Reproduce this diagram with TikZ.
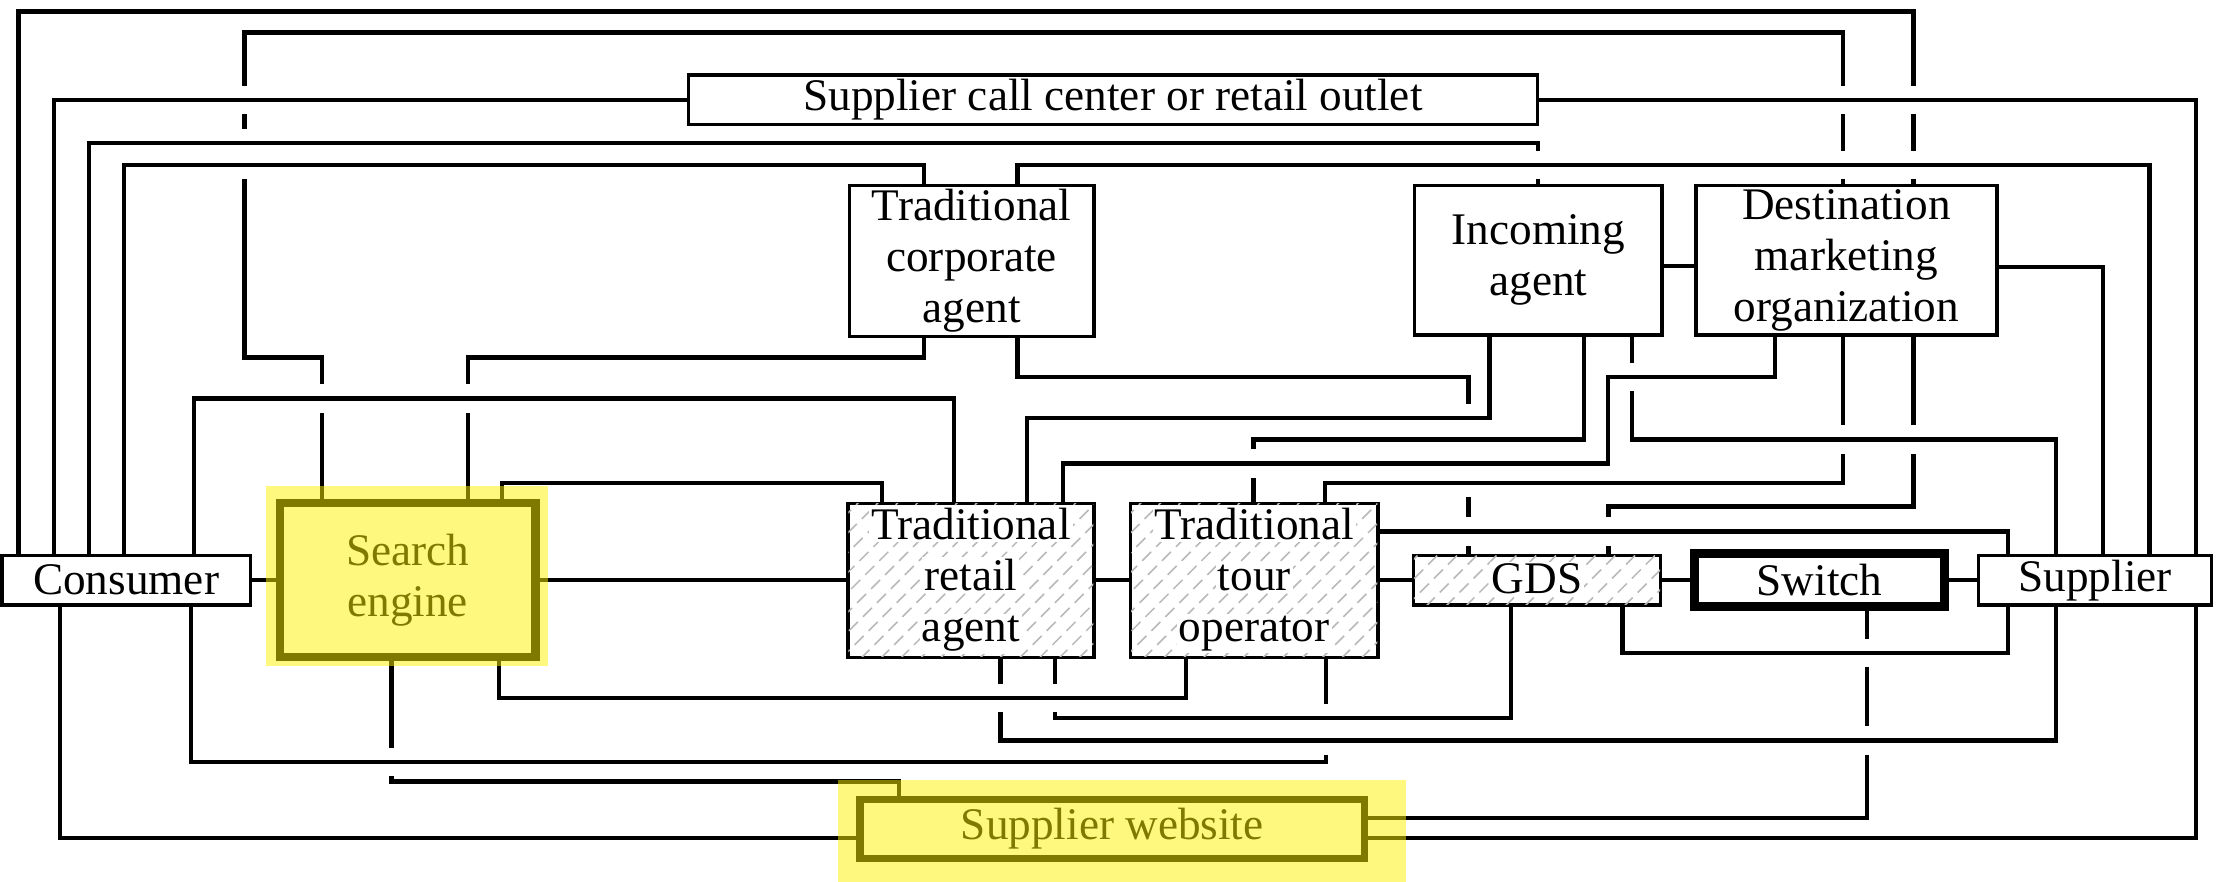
\documentclass[tikz,border=0pt]{standalone}
\usepackage{fontspec}
\setmainfont{Liberation Serif}
\usetikzlibrary{calc}
\pgfdeclarelayer{bg}
\pgfdeclarelayer{fg}
\pgfsetlayers{bg,main,fg}
\newcommand{\dfont}{\fontsize{32}{36}\selectfont}
\newcommand{\brk}[2]{%
  \fill[white] ({#1-5},{#2-10}) rectangle ({#1+5},{#2+10});
  \draw[ln] ({#1-7},#2) -- ({#1+7},#2);}
\newcommand{\hatchbox}[1]{%
  \begin{scope}
  \clip ($(#1.south west)+(1.5,-1.5)$) rectangle ($(#1.north east)+(-1.5,1.5)$);
  \foreach \k in {-130,-116,...,200}{\draw[hatchln] ($(#1.south west)+(\k,0)$) -- ++(130,-130);}
  \end{scope}}
\begin{document}
\begin{tikzpicture}[x=1pt,y=-1pt,
  ln/.style={line width=3pt, line join=miter},
  box/.style={draw, line width=2.3pt, fill=white, inner sep=0pt, align=center, font=\dfont},
  tl/.style={anchor=base, fill=white, inner sep=1.5pt, font=\dfont},
  hatchln/.style={draw=gray!55, line width=1.1pt, dash pattern=on 9pt off 5pt},
  hilite/.style={fill=yellow, fill opacity=0.5}]
\useasboundingbox (0,0) rectangle (1568,624);

% ---------- nodes ----------
\node[box, minimum width=175.5pt, minimum height=35pt] (con) at (89.25,410.5) {Consumer};
\node[box, line width=6pt, minimum width=181pt, minimum height=109pt] (se) at (288.5,410.5) {Search\\engine};
\node[box, minimum width=174pt, minimum height=109pt] (tra) at (687,410.5) {};
\node[box, minimum width=175pt, minimum height=109pt] (tto) at (887.5,410.5) {};
\node[box, minimum width=175pt, minimum height=35pt] (gds) at (1087.5,410.5) {};
\node[box, line width=6pt, minimum width=177pt, minimum height=37.6pt] (sw) at (1287.5,410.5) {Switch};
\node[box, minimum width=165pt, minimum height=35pt] (sup) at (1482.5,410.5) {Supplier};
\node[box, minimum width=601pt, minimum height=35pt] (scc) at (787.5,70.5) {Supplier call center or retail outlet};
\node[box, minimum width=173pt, minimum height=107pt] (tca) at (687.5,184.5) {Traditional\\corporate\\agent};
\node[box, minimum width=175pt, minimum height=106pt] (inc) at (1088.5,184) {Incoming\\agent};
\node[box, minimum width=213pt, minimum height=106pt] (dmo) at (1306.5,184) {Destination\\marketing\\organization};
\node[box, line width=5pt, minimum width=357pt, minimum height=42pt] (web) at (787,586.5) {Supplier website};

% hatched boxes
\hatchbox{tra}
\hatchbox{tto}
\hatchbox{gds}
\node[tl] at (687,382) {Traditional};
\node[tl] at (687,418) {retail};
\node[tl] at (687,454) {agent};
\node[tl] at (887.5,382) {Traditional};
\node[tl] at (887.5,418) {tour};
\node[tl] at (887.5,454) {operator};
\node[tl] at (1087.5,420) {GDS};

% ---------- connectors ----------
\begin{pgfonlayer}{bg}
\draw[ln] (con.east) -- (se.west);
\draw[ln] (se.east) -- (tra.west);
\draw[ln] (tra.east) -- (tto.west);
\draw[ln] (tto.east) -- (gds.west);
\draw[ln] (gds.east) -- (sw.west);
\draw[ln] (sw.east) -- (sup.west);
\draw[ln] (inc.east |- 0,188) -- (dmo.west |- 0,188);
% consumer top
\draw[ln, line width=3.6pt] (13,0 |- con.north) |- (1354,8) |- (1138,358.5) -- (1138,0 |- gds.north);
\draw[ln] (38,0 |- con.north) |- (scc.west);
\draw[ln] (63,0 |- con.north) |- (1088,101) -- (1088,0 |- inc.north);
\draw[ln] (88,0 |- con.north) |- (654,117) -- (654,0 |- tca.north);
\draw[ln] (137,0 |- con.north) |- (675,282) -- (675,0 |- tra.north);
% consumer bottom
\draw[ln] (42.7,0 |- con.south) |- (web.west |- 0,593);
\draw[ln] (135,0 |- con.south) |- (938,539) -- (938,0 |- tto.south);
% call center
\draw[ln] (scc.east) -| (1554,0 |- sup.north);
% corporate agent
\draw[ln] (720,0 |- tca.north) |- (1521,117) -- (1521,0 |- sup.north);
\draw[ln] (654,0 |- tca.south) |- (331,253) -- (331,0 |- se.north);
\draw[ln] (720,0 |- tca.south) |- (1039,266.5) -- (1039,0 |- gds.north);
% search engine
\draw[ln] (228,0 |- se.north) |- (173,253) |- (1304,23) |- (937.5,342) -- (937.5,0 |- tto.north);
\draw[ln] (355,0 |- se.north) |- (624,342) -- (624,0 |- tra.north);
\draw[ln] (277,0 |- se.south) |- (636,553) -- (636,0 |- web.north);
\draw[ln] (353,0 |- se.south) |- (839,494) -- (839,0 |- tto.south);
% incoming agent
\draw[ln] (1054,0 |- inc.south) |- (726.5,296) -- (726.5,0 |- tra.north);
\draw[ln] (1121,0 |- inc.south) |- (887,311) -- (887,0 |- tto.north);
\draw[ln] (1155,0 |- inc.south) |- (1455,311) -- (1455,0 |- sup.north);
% DMO
\draw[ln] (dmo.east |- 0,189) -| (1488,0 |- sup.north);
\draw[ln] (1256,0 |- dmo.south) |- (1138,266.5) |- (752,328) -- (752,0 |- tra.north);
% retail agent bottom
\draw[ln] (708,0 |- tra.south) |- (1455,524) -- (1455,0 |- sup.south);
\draw[ln] (746.5,0 |- tra.south) |- (1069,508) -- (1069,0 |- gds.south);
% tour operator
\draw[ln] (tto.east |- 0,376) -| (1421,462) -| (1148,0 |- gds.south);
% switch / supplier to website
\draw[ln] (1321,0 |- sw.south) |- (web.east |- 0,579);
\draw[ln] (1554,0 |- sup.south) |- (web.east |- 0,593);
% crossing gaps
\brk{173}{70.5}\brk{173}{101}\brk{173}{117}
\brk{1304}{70.5}\brk{1354}{70.5}
\brk{1088}{117}\brk{1304}{117}\brk{1354}{117}
\brk{1155}{266.5}
\brk{228}{282}\brk{331}{282}
\brk{1039}{296}\brk{1039}{311}\brk{1304}{311}\brk{1354}{311}
\brk{887}{328}\brk{1039}{328}\brk{1039}{342}
\brk{1039}{376}\brk{1138}{376}
\brk{1321}{462}\brk{708}{494}\brk{746.5}{494}
\brk{938}{508}\brk{938}{524}\brk{1321}{524}
\brk{277}{539}
\end{pgfonlayer}

% ---------- highlights ----------
\begin{pgfonlayer}{fg}
\fill[hilite] (188,344) rectangle (388,471);
\fill[hilite] (593,552) rectangle (995,624);
\end{pgfonlayer}
\end{tikzpicture}
\end{document}
